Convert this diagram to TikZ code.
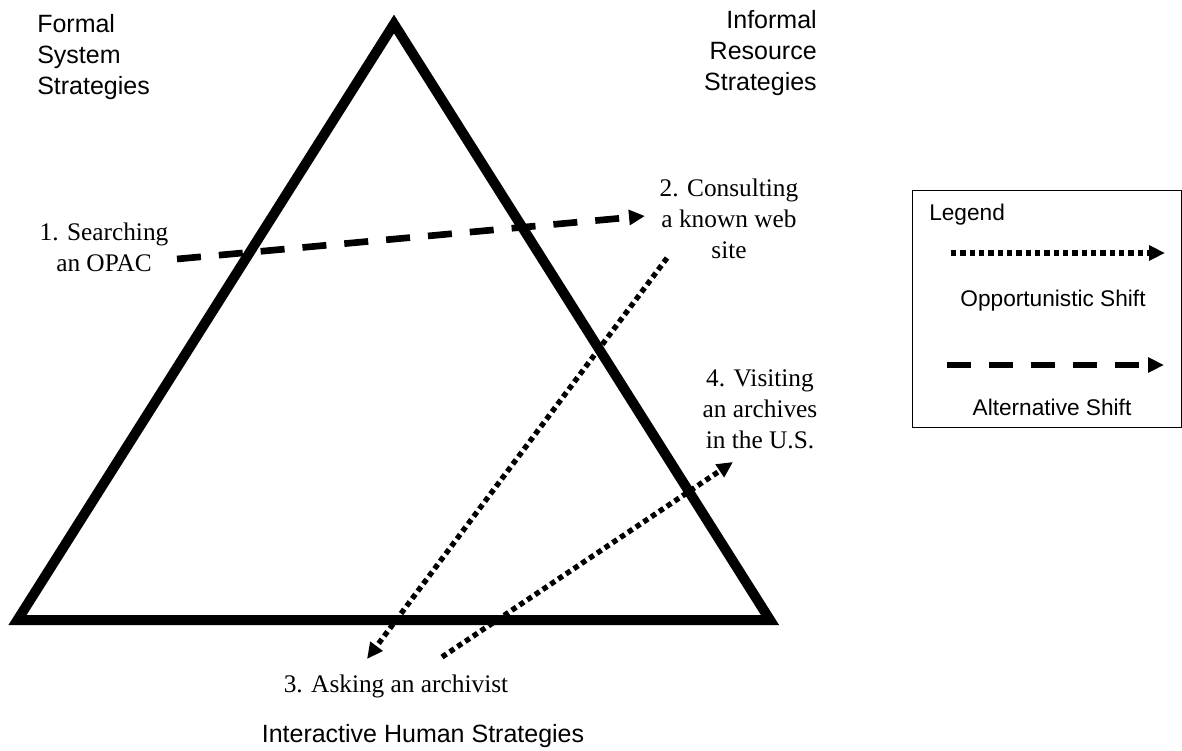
\documentclass[tikz,border=0pt]{standalone}
\usepackage{fontspec}
\setmainfont{Liberation Serif}
\newfontfamily\arialfont{Liberation Sans}
\usetikzlibrary{arrows.meta}
\begin{document}
\begin{tikzpicture}[x=0.75pt,y=-0.75pt,
  seriflabel/.style={font=\fontsize{19}{23}\selectfont, align=center, inner sep=0pt},
  sanslabel/.style={font=\arialfont\fontsize{18.75}{23}\selectfont, inner sep=0pt},
  legendlabel/.style={font=\arialfont\fontsize{17}{20}\selectfont, inner sep=0pt},
  triedge/.style={line width=7.5pt, line join=miter},
  shifttip/.style={-{Triangle[length=12pt,width=11pt]}},
  altshift/.style={line width=5pt, dash pattern=on 18pt off 13.5pt, shifttip},
  oppshift/.style={line width=4pt, dash pattern=on 4pt off 3pt, shifttip},
  legendbox/.style={draw, line width=1.1pt, inner sep=0pt, anchor=north west,
    minimum width=201.75pt, minimum height=177.75pt},
]
\useasboundingbox (0,0) rectangle (1182,750);

% the strategy triangle
\coordinate (apex) at (394,24);
\coordinate (bl) at (17.5,620);
\coordinate (br) at (770,620);
\draw[triedge] (apex) -- (bl) -- (br) -- cycle;

% corner captions (base anchor = baseline of the last line)
\node[sanslabel, anchor=base west, align=left] (formal) at (37,94) {Formal\\System\\Strategies};
\node[sanslabel, anchor=base east, align=right] (informal) at (817,90) {Informal\\Resource\\Strategies};
\node[sanslabel, anchor=base] (human) at (423,742) {Interactive Human Strategies};

% numbered steps
\node[seriflabel, anchor=base] (opac) at (104,271) {1. Searching\\an OPAC};
\node[seriflabel, anchor=base] (web) at (729,258) {2. Consulting\\a known web\\site};
\node[seriflabel, anchor=base] (archivist) at (396,692) {3. Asking an archivist};
\node[seriflabel, anchor=base] (visit) at (760,448) {4. Visiting\\an archives\\in the U.S.};

% shifts between steps
\coordinate (s1) at (177,259);
\coordinate (s2) at (645,216);
\draw[altshift] (s1) -- (s2);

\coordinate (s2b) at (667,258);
\coordinate (s3) at (367,659);
\draw[oppshift] (s2b) -- (s3);

\coordinate (s3b) at (442,657);
\coordinate (s4) at (733,462);
\draw[oppshift] (s3b) -- (s4);

% legend
\node[legendbox] (legend) at (912,190) {};
\node[legendlabel, anchor=base west] (legtitle) at (929,220) {Legend};
\coordinate (o1) at (951,253);
\coordinate (o2) at (1165,253);
\draw[oppshift] (o1) -- (o2);
\node[legendlabel, anchor=base] (opptext) at (1053,306) {Opportunistic Shift};
\coordinate (a1) at (947,365);
\coordinate (a2) at (1164,365);
\draw[altshift] (a1) -- (a2);
\node[legendlabel, anchor=base] (alttext) at (1052,415) {Alternative Shift};
\end{tikzpicture}
\end{document}
